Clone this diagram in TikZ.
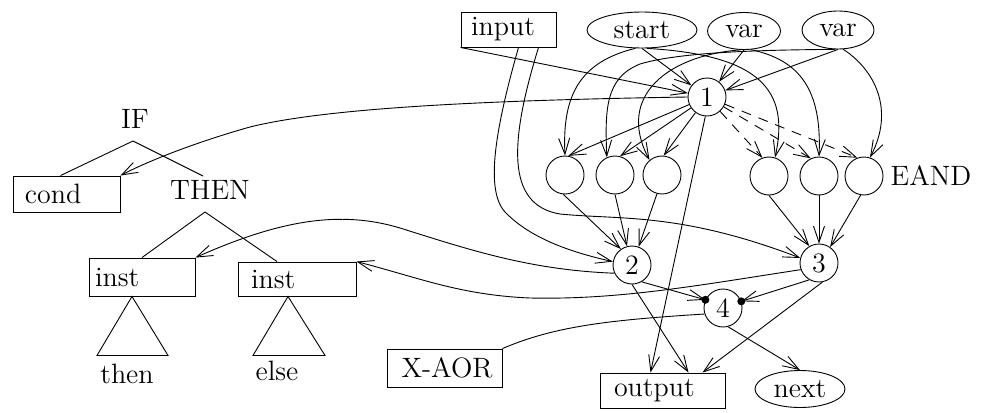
\documentclass[tikz,border=0pt]{standalone}
\usetikzlibrary{arrows.meta,shapes.geometric}
\begin{document}
\begin{tikzpicture}[x=0.5pt,y=-0.5pt,line width=0.45pt,font=\fontsize{14}{16}\selectfont]
\tikzset{
 box/.style={draw,rectangle,inner ysep=0pt,align=left},
 ell/.style={draw,ellipse,inner sep=0pt},
 circ/.style={draw,circle,minimum size=19pt,inner sep=0pt},
 lbl/.style={inner sep=1pt},
 arr/.style={-{Straight Barb[length=8pt,width=5.5pt]}},
 dsh/.style={arr,dash pattern=on 5pt off 4pt},
}
\useasboundingbox (0,0) rectangle (984,412);
% top row
\node[box,minimum height=17.5pt,text width=37.5pt,inner xsep=5pt] (input) at (508.5,29.5) {input};
\node[ell,minimum width=55pt,minimum height=18pt] (start) at (642,30) {start};
\node[ell,minimum width=36.5pt,minimum height=18.5pt] (var1) at (744,31) {var};
\node[ell,minimum width=36pt,minimum height=19pt] (var2) at (838,30) {var};
% circles
\node[circ] (n1) at (707,97) {1};
\node[circ] (A) at (565,175) {};
\node[circ] (B) at (615,175) {};
\node[circ] (C) at (662,175) {};
\node[circ] (D) at (769,176) {};
\node[circ] (E) at (819,176) {};
\node[circ] (F) at (864,176) {};
\node[lbl] (eand) at (931,176) {EAND};
\node[circ] (n2) at (632,265) {2};
\node[circ] (n3) at (819,263) {3};
\node[circ] (n4) at (723,308) {4};
\coordinate (dl) at (n4.155);
\coordinate (dr) at (n4.20);
% bottom
\node[box,minimum height=17.5pt,text width=48.5pt,inner xsep=7pt] (output) at (662.5,390.5) {output};
\node[ell,minimum width=45pt,minimum height=18.5pt] (next) at (800,389) {next};
\node[box,minimum height=19pt,text width=53pt,inner xsep=2.25pt] (xaor) at (444.5,368) {\hspace*{5pt}\mbox{X-AOR}};
% left tree
\node[lbl] (if) at (135,119) {IF};
\node[lbl] (tTHEN) at (210,190) {THEN};
\node[box,minimum height=18pt,text width=41.5pt,inner xsep=6pt] (cond) at (66.5,194) {cond};
\node[box,minimum height=19pt,text width=47pt,inner xsep=3pt] (inst1) at (142,277) {inst};
\node[box,minimum height=17pt,text width=46pt,inner xsep=6.5pt] (inst2) at (297,279) {inst};
\node[lbl] (thentxt) at (127,374) {then};
\node[lbl] (elsetxt) at (277,371) {else};
\coordinate (ifa) at (133,141);
\coordinate (ifr) at (203,176);
\coordinate (tha) at (205,212);
\draw (ifa) -- ([xshift=-3pt]cond.north);
\draw (ifa) -- (ifr);
\draw (tha) -- (inst1.north);
\draw (tha) -- ([xshift=-10pt]inst2.north);
\draw ([xshift=-5pt]inst1.south) -- ++(-35,59) -- ++(71,0) -- cycle;
\draw ([xshift=-4.5pt]inst2.south) -- ++(-35,59) -- ++(72,0) -- cycle;
% inputs of 1
\draw[arr] (input.south west) -- (n1);
\draw[arr] (start.south) -- (n1);
\draw[arr] (var1.south) -- (n1);
\draw[arr] (var2.south) -- (n1);
% input to 2 and 3
\draw[arr] ([xshift=5pt]input.south) .. controls (495,130) and (485,190) .. (505,212) .. controls (530,238) and (570,252) .. (n2.170);
\draw[arr] ([xshift=15pt]input.south) .. controls (510,140) and (505,205) .. (560,214) .. controls (620,220) and (680,212) .. (n3.165);
% tops to circles
\draw[arr] (start.250) .. controls (580,62) and (562,95) .. (A.north);
\draw[arr] (var2.260) .. controls (760,50) and (680,52) .. (640,64) .. controls (605,78) and (605,110) .. (B.115);
\draw[arr] (var1.260) .. controls (670,55) and (615,95) .. (C.130);
\draw[arr] (start.285) .. controls (760,55) and (790,90) .. (D.72);
\draw[arr] (var1.290) .. controls (800,60) and (822,90) .. (E.north);
\draw[arr] (var2.285) .. controls (875,70) and (895,110) .. (F.72);
% 1 to circles
\draw[arr] (n1) -- (A.80);
\draw[arr] (n1) -- (B.75);
\draw[arr] (n1) -- (C.85);
\draw[dsh] (n1) -- (D.110);
\draw[dsh] (n1) -- (E.115);
\draw[dsh] (n1) -- (F.110);
% 1 to cond
\draw[arr] (n1.180) .. controls (500,100) and (330,107) .. (250,127) .. controls (200,141) and (150,160) .. (cond.north east);
% circles to 2 and 3
\draw[arr] (A.265) -- (n2.125);
\draw[arr] (B.270) -- (n2.105);
\draw[arr] (C.255) -- (n2.70);
\draw[arr] (D.270) -- (n3.120);
\draw[arr] (E.south) -- (n3.north);
\draw[arr] (F.260) -- (n3.55);
% lower edges
\draw[arr] (n1.265) -- ([xshift=-6pt]output.north);
\draw[arr] (n2.south) -- ([xshift=13pt]output.north);
\draw[arr] (n3.280) -- ([xshift=20pt]output.north);
\draw[arr] (n2.300) -- (dl);
\draw[arr] (n3.240) -- (dr);
\fill (dl) circle (2pt);
\fill (dr) circle (2pt);
\draw[arr] (n4.285) -- (next.north);
\draw (n4.198) .. controls (610,320) and (555,326) .. (xaor.north east);
\draw[arr] (n2.205) .. controls (530,270) and (470,250) .. (400,228) .. controls (340,210) and (280,220) .. (inst1.north east);
\draw[arr] (n3.200) .. controls (700,285) and (620,300) .. (530,298) .. controls (460,295) and (420,278) .. (inst2.north east);
\end{tikzpicture}
\end{document}
